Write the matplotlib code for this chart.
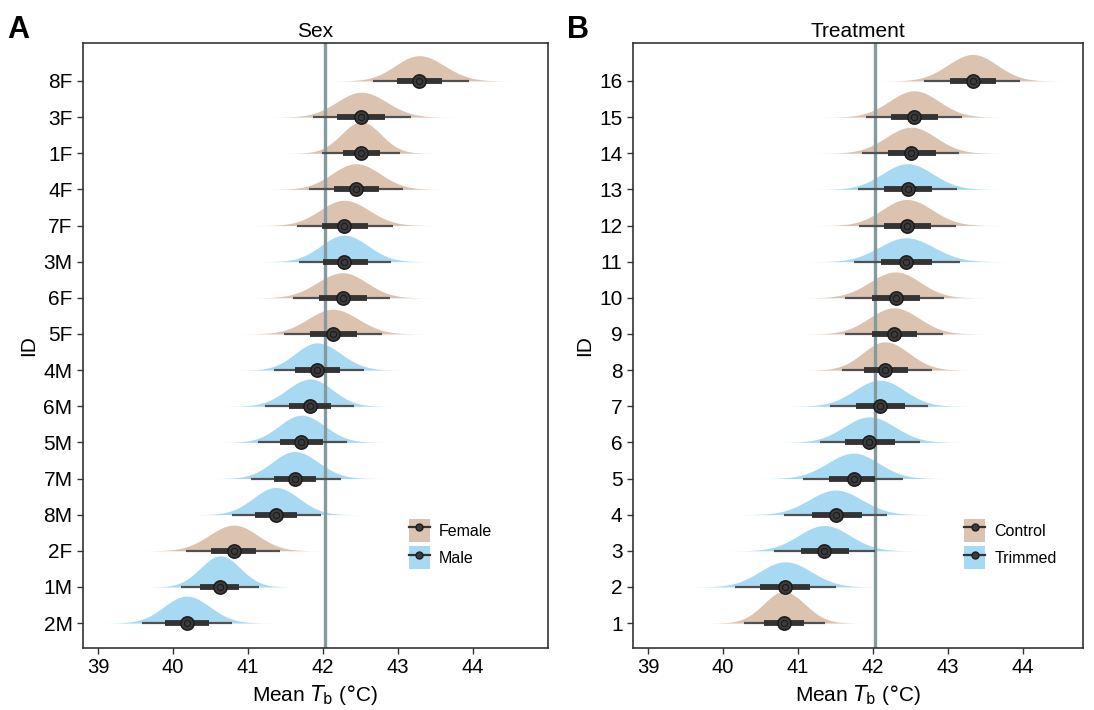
import matplotlib.pyplot as plt
import numpy as np
from matplotlib.patches import Patch
from matplotlib.lines import Line2D
from matplotlib.legend_handler import HandlerTuple

# panel A (Sex), listed top to bottom
ids_a = ['8F', '3F', '1F', '4F', '7F', '3M', '6F', '5F', '4M', '6M', '5M', '7M', '8M', '2F', '1M', '2M']
sex_a = ['F', 'F', 'F', 'F', 'F', 'M', 'F', 'F', 'M', 'M', 'M', 'M', 'M', 'F', 'M', 'M']
med_a = [43.28, 42.51, 42.51, 42.44, 42.28, 42.28, 42.26, 42.13, 41.92, 41.83, 41.71, 41.62, 41.37, 40.81, 40.63, 40.18]
lo95_a = [42.66, 41.87, 41.99, 41.81, 41.65, 41.68, 41.60, 41.48, 41.35, 41.22, 41.13, 41.04, 40.78, 40.17, 40.11, 39.59]
hi95_a = [43.94, 43.17, 43.02, 43.07, 42.93, 42.90, 42.89, 42.79, 42.54, 42.41, 42.32, 42.24, 41.97, 41.43, 41.15, 40.79]
lo66_a = [42.98, 42.19, 42.26, 42.14, 41.98, 42.00, 41.95, 41.82, 41.62, 41.54, 41.42, 41.34, 41.09, 40.50, 40.36, 39.89]
hi66_a = [43.59, 42.82, 42.76, 42.75, 42.60, 42.60, 42.58, 42.45, 42.22, 42.11, 42.00, 41.91, 41.65, 41.11, 40.88, 40.48]

# panel B (Treatment), listed top to bottom (16 .. 1)
ids_b = [str(i) for i in range(16, 0, -1)]
trt_b = ['C', 'C', 'C', 'T', 'C', 'T', 'C', 'C', 'C', 'T', 'T', 'T', 'T', 'T', 'T', 'C']
med_b = [43.33, 42.55, 42.51, 42.46, 42.45, 42.44, 42.30, 42.28, 42.16, 42.09, 41.95, 41.74, 41.50, 41.35, 40.83, 40.81]
lo95_b = [42.68, 41.90, 41.85, 41.80, 41.81, 41.74, 41.63, 41.63, 41.58, 41.43, 41.29, 41.06, 40.81, 40.68, 40.16, 40.28]
hi95_b = [43.96, 43.19, 43.15, 43.12, 43.11, 43.16, 42.94, 42.93, 42.78, 42.73, 42.62, 42.40, 42.19, 42.02, 41.51, 41.36]
lo66_b = [43.03, 42.24, 42.20, 42.14, 42.15, 42.11, 41.98, 41.98, 41.88, 41.77, 41.62, 41.41, 41.18, 41.04, 40.49, 40.55]
hi66_b = [43.64, 42.86, 42.84, 42.79, 42.77, 42.79, 42.62, 42.59, 42.47, 42.42, 42.29, 42.03, 41.85, 41.68, 41.16, 41.08]

ref_line = 42.03
tan = '#dbc3b0'
blue = '#a7daf2'

plt.rcParams['font.family'] = ['Liberation Sans', 'DejaVu Sans']


def halfeye(ax, ids, grp, med, lo95, hi95, lo66, hi66, cols, max_h=0.87):
    n = len(ids)
    ypos = np.arange(n, 0, -1)
    sl = (np.array(med) - np.array(lo95)) / 1.96
    sr = (np.array(hi95) - np.array(med)) / 1.96
    peak = 2 / (np.sqrt(2 * np.pi) * (sl + sr))
    c = max_h / peak.max()
    for i in range(n):
        x = np.linspace(med[i] - 3.7 * sl[i], med[i] + 3.7 * sr[i], 300)
        s = np.where(x < med[i], sl[i], sr[i])
        d = peak[i] * np.exp(-0.5 * ((x - med[i]) / s) ** 2) * c
        ax.fill_between(x, ypos[i], ypos[i] + d, color=cols[grp[i]], lw=0, zorder=1)
    for i in range(n):
        ax.plot([lo95[i], hi95[i]], [ypos[i]] * 2, color='#505050', lw=1.6,
                solid_capstyle='butt', zorder=3)
        ax.plot([lo66[i], hi66[i]], [ypos[i]] * 2, color='#333333', lw=4.2,
                solid_capstyle='butt', zorder=4)
        ax.plot(med[i], ypos[i], 'o', ms=9.5, mfc='#3c3c3c', mec='#1e1e1e', mew=1.2, zorder=5)
        ax.plot(med[i], ypos[i], 'o', ms=4.5, mfc='none', mec='#1a1a1a', mew=0.8, zorder=6)
    ax.axvline(ref_line, color='#849a9c', lw=2.4, zorder=2)
    ax.set_yticks(ypos)
    ax.set_yticklabels(ids)
    ax.set_ylim(0.31, 17.05)
    ax.set_xticks([39, 40, 41, 42, 43, 44])
    ax.set_ylabel('ID', fontsize=15)
    ax.set_xlabel(r'Mean $T_{\mathrm{b}}$ ($\degree$C)', fontsize=15)
    ax.tick_params(axis='x', labelsize=14.5, length=4, width=1, color='#333333')
    ax.tick_params(axis='y', labelsize=15, length=4, width=1, color='#333333')
    for sp in ax.spines.values():
        sp.set_color('#333333')
        sp.set_linewidth(1.2)


fig = plt.figure(figsize=(10.94, 7.10), dpi=100)
ax1 = fig.add_axes([0.0759, 0.0873, 0.4251, 0.8521])
ax2 = fig.add_axes([0.5786, 0.0873, 0.4114, 0.8521])

halfeye(ax1, ids_a, sex_a, med_a, lo95_a, hi95_a, lo66_a, hi66_a, {'F': tan, 'M': blue})
halfeye(ax2, ids_b, trt_b, med_b, lo95_b, hi95_b, lo66_b, hi66_b, {'C': tan, 'T': blue})
ax1.set_xlim(38.8, 45.0)
ax2.set_xlim(38.8, 44.8)

ax1.set_title('Sex', fontsize=15, pad=4)
ax2.set_title('Treatment', fontsize=15, pad=4)


def leg_handle(col):
    return (Patch(facecolor=col, edgecolor='none'),
            Line2D([], [], color='#333333', lw=1.6, marker='o', ms=5, mfc='#3c3c3c', mec='#1e1e1e'))


for ax, labs, x0 in [(ax1, ['Female', 'Male'], 0.70), (ax2, ['Control', 'Trimmed'], 0.735)]:
    ax.legend([leg_handle(tan), leg_handle(blue)], labs,
              handler_map={tuple: HandlerTuple(ndivide=1, pad=0)},
              loc='lower left', bbox_to_anchor=(x0, 0.13), frameon=False, fontsize=11.5,
              handlelength=1.35, handleheight=1.85, labelspacing=0.25, handletextpad=0.55,
              borderaxespad=0, borderpad=0)

fig.text(0.007, 0.947, 'A', fontsize=22, fontweight='bold')
fig.text(0.518, 0.947, 'B', fontsize=22, fontweight='bold')

fig.savefig('out.png', dpi=100)
